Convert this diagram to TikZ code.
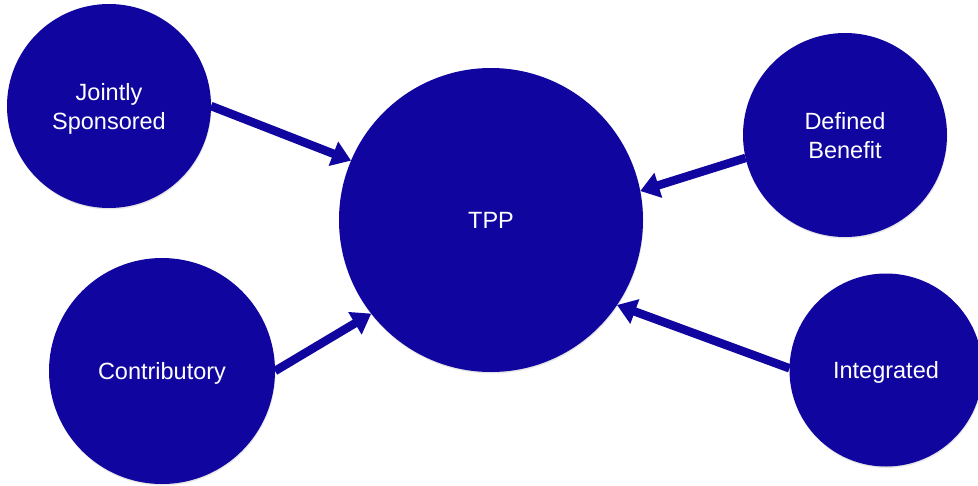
\documentclass[tikz,border=0pt]{standalone}
\usepackage{fontspec}
\setmainfont{Liberation Sans}
\usetikzlibrary{arrows.meta, shadows}
\definecolor{planblue}{RGB}{16,6,159}

\begin{document}
\begin{tikzpicture}[x=1pt, y=-1pt,
		plan/.style={circle, fill=planblue, text=white, inner sep=0pt, outer sep=0pt, align=center,
			font=\fontsize{23.5}{28.5}\selectfont, text height=17pt, text depth=0pt,
			drop shadow={opacity=0.2, shadow xshift=0.5pt, shadow yshift=-1.5pt}},
		twoline/.style={text height=46pt},
		feed/.style={planblue, line width=8.5pt, -{Triangle[length=19pt, width=25pt]}}]
	\useasboundingbox (0,0) rectangle (978,485);
	% the plan types
	\node[plan, minimum size=304pt] (tpp) at (491,220) {TPP};
	\node[plan, twoline, minimum size=204pt] (js) at (109,106) {Jointly\\Sponsored};
	\node[plan, twoline, minimum size=204pt] (db) at (845,135) {Defined\\Benefit};
	\node[plan, minimum size=226pt] (ct) at (162,371) {Contributory};
	\node[plan, minimum size=193pt] (ig) at (886,370) {Integrated};
	% arrows into TPP
	\draw[feed] (js.0) -- (tpp.157);
	\draw[feed] (ct.0) -- (tpp.218);
	\draw[feed] (db.193) -- (tpp.11);
	\draw[feed] (ig.179) -- (tpp.326);
\end{tikzpicture}
\end{document}
